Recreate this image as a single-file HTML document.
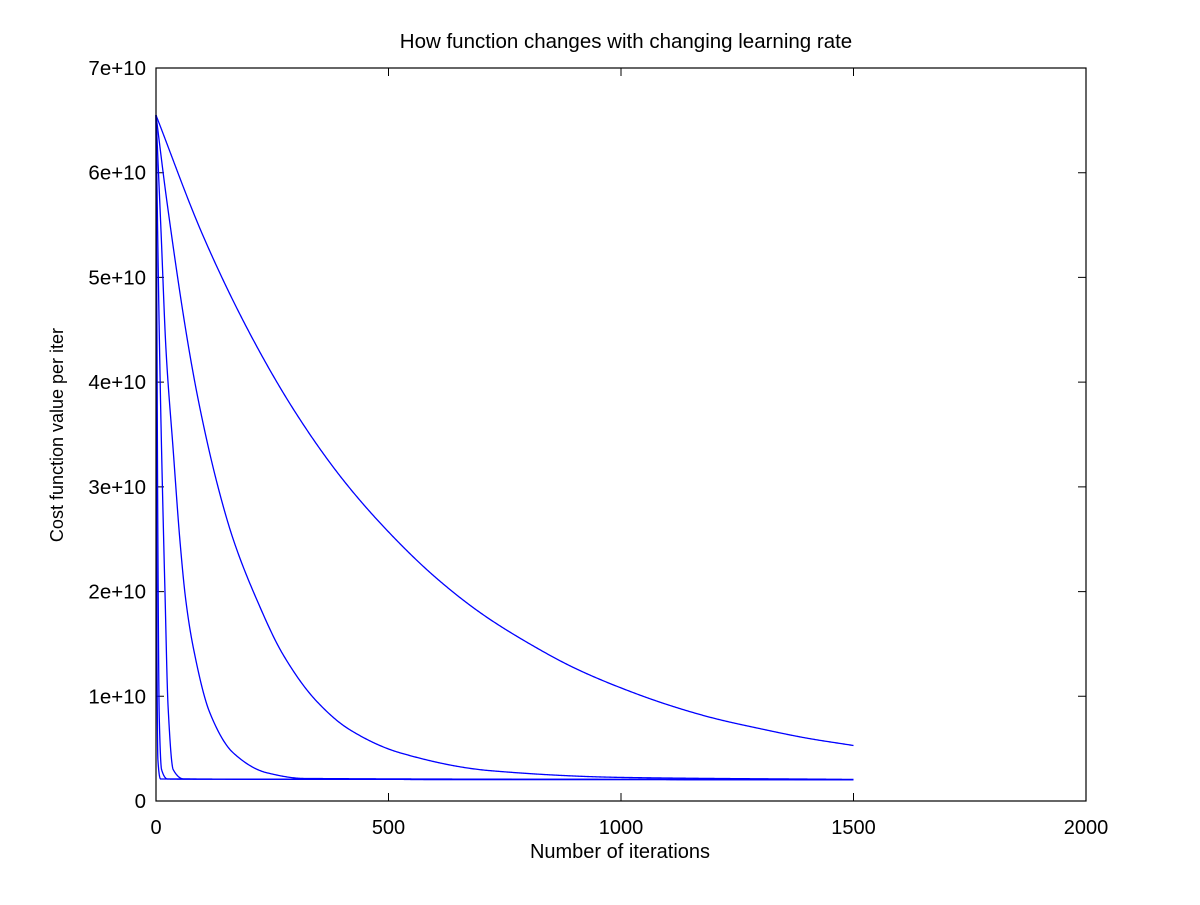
<!DOCTYPE html>
<html><head><meta charset="utf-8"><style>
body{margin:0;background:#fff}
svg text{font-family:"Liberation Sans",sans-serif;fill:#000}
</style></head><body>
<svg width="1200" height="900" xmlns="http://www.w3.org/2000/svg" id="c">
<rect width="1200" height="900" fill="#fff"/>
<text x="626" y="48" font-size="20.5" text-anchor="middle">How function changes with changing learning rate</text>
<text x="620" y="858" font-size="20" text-anchor="middle">Number of iterations</text>
<text x="63" y="435" font-size="18" text-anchor="middle" transform="rotate(-90 63 435)">Cost function value per iter</text>
<g id="ticks"></g>
<g id="series"></g>
<rect x="156" y="68" width="930" height="733" fill="none" stroke="#000" stroke-width="1.2"/>
</svg>
<script>
const xTicks=[0,500,1000,1500,2000];
const yTicks=[0,1e10,2e10,3e10,4e10,5e10,6e10,7e10];
const yTickLabels=["0","1e+10","2e+10","3e+10","4e+10","5e+10","6e+10","7e+10"];
const iterA=[0,100,200,300,400,500,600,700,800,900,1000,1100,1200,1300,1400,1500];
const costA=[6.55e10,5.41e10,4.48e10,3.71e10,3.08e10,2.57e10,2.14e10,1.79e10,1.51e10,1.27e10,1.08e10,9.2e9,7.9e9,6.9e9,6.0e9,5.3e9];
const iterB=[0,23,71,95,131,166,217,273,346,417,525,718,1004,1500];
const costB=[6.55e10,5.74e10,4.31e10,3.74e10,3.04e10,2.50e10,1.92e10,1.40e10,9.5e9,6.8e9,4.6e9,2.9e9,2.25e9,2.06e9];
const iterC=[0,11,21.5,37,52,64,80,116,166,238,320,1500];
const costC=[6.55e10,5.42e10,4.31e10,3.35e10,2.46e10,1.92e10,1.47e10,8.4e9,4.6e9,2.7e9,2.15e9,2.04e9];
const iterD=[0,4,9,17,19,26,37,60,1500];
const costD=[6.55e10,5.3e10,3.99e10,2.40e10,2.05e10,9.0e9,3.0e9,2.1e9,2.04e9];
const iterE=[0,2,4,7,12,25,1500];
const costE=[6.55e10,4.5e10,2.5e10,8e9,3e9,2.1e9,2.04e9];
const iterF=[0,1,2,4,10,1500];
const costF=[6.55e10,3.5e10,1.5e10,4e9,2.1e9,2.04e9];
const X=v=>156+v/2000*930;
const Y=v=>801-v/7e10*733;
const NS="http://www.w3.org/2000/svg";
const tg=document.getElementById('ticks');
xTicks.forEach(t=>{
 const l=document.createElementNS(NS,'path');
 l.setAttribute('d',`M${X(t)},801v-8M${X(t)},68v8`);l.setAttribute('stroke','#000');
 
 
 tg.appendChild(l);
 const tx=document.createElementNS(NS,'text');
 tx.setAttribute('x',X(t));tx.setAttribute('y',834);tx.setAttribute('font-size','20');tx.setAttribute('text-anchor','middle');
 tx.textContent=t;
 
 
 tg.appendChild(tx);
});
yTicks.forEach((t,i)=>{
 const l=document.createElementNS(NS,'path');
 l.setAttribute('d',`M156,${Y(t)}h8M1086,${Y(t)}h-8`);l.setAttribute('stroke','#000');
 
 
 tg.appendChild(l);
 const tx=document.createElementNS(NS,'text');
 tx.setAttribute('x',146);tx.setAttribute('y',Y(t)+7);tx.setAttribute('font-size','20.5');tx.setAttribute('text-anchor','end');
 tx.textContent=yTickLabels[i];
 
 
 tg.appendChild(tx);
});
function monotone(xs,ys){
 const n=xs.length,d=[],m=[];
 for(let i=0;i<n-1;i++)d.push((ys[i+1]-ys[i])/(xs[i+1]-xs[i]));
 m[0]=d[0];m[n-1]=d[n-2];
 for(let i=1;i<n-1;i++){
  if(d[i-1]*d[i]<=0)m[i]=0;
  else{const h0=xs[i]-xs[i-1],h1=xs[i+1]-xs[i],w1=2*h1+h0,w2=h1+2*h0;m[i]=(w1+w2)/(w1/d[i-1]+w2/d[i]);}
 }
 return x=>{
  let i=0;while(i<n-2&&x>xs[i+1])i++;
  const h=xs[i+1]-xs[i],t=(x-xs[i])/h,t2=t*t,t3=t2*t;
  return (2*t3-3*t2+1)*ys[i]+(t3-2*t2+t)*h*m[i]+(-2*t3+3*t2)*ys[i+1]+(t3-t2)*h*m[i+1];
 };
}
const sg=document.getElementById('series');
[[iterA,costA],[iterB,costB],[iterC,costC],[iterD,costD],[iterE,costE],[iterF,costF]].forEach((s,k)=>{
 const f=monotone(s[0],s[1]);
 const last=s[0][s[0].length-1];
 let d='';
 for(let x=0;x<=last;x+=(x<60?0.25:2)){
  d+=(d?'L':'M')+X(x).toFixed(2)+','+Y(f(x)).toFixed(2);
 }
 const p=document.createElementNS(NS,'path');
 p.setAttribute('d',d);p.setAttribute('fill','none');p.setAttribute('stroke','#0000ff');p.setAttribute('stroke-width','1.3');
 
 
 sg.appendChild(p);
});
</script>
</body></html>
